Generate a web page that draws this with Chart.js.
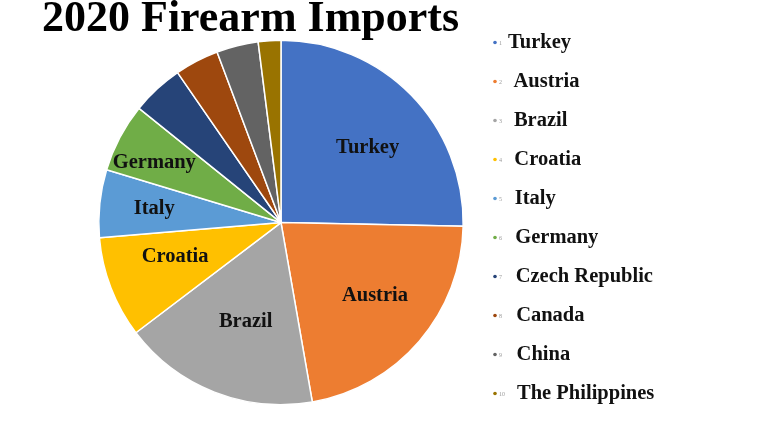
<!DOCTYPE html>
<html>
<head>
<meta charset="utf-8">
<script src="https://cdn.jsdelivr.net/npm/chart.js@4.4.1/dist/chart.umd.min.js"></script>
<style>
  html, body { margin: 0; padding: 0; background: #ffffff; }
  #wrap { width: 770px; height: 430px; }
</style>
</head>
<body>
<div id="wrap"><canvas id="c" width="770" height="430"></canvas></div>
<script>
// ---- data ----
const titleText = '2020 Firearm Imports';
const categories = ['Turkey', 'Austria', 'Brazil', 'Croatia', 'Italy', 'Germany',
                    'Czech Republic', 'Canada', 'China', 'The Philippines'];
const shares = [25.3, 21.9, 17.4, 9.0, 6.0, 6.1, 4.6, 3.9, 3.7, 2.0];
const labelledSlices = ['Turkey', 'Austria', 'Brazil', 'Croatia', 'Italy', 'Germany'];

// ---- style ----
const sliceColors = ['#4472C4', '#ED7D31', '#A5A5A5', '#FFC000', '#5B9BD5',
                     '#70AD47', '#264478', '#9E480E', '#636363', '#997300'];
const serif = '"Liberation Serif", "Times New Roman", serif';
const labelFont = 'bold 20.5px ' + serif;
// per-slice label placement: radial factor and angle nudge (deg)
const labelPlace = {
  'Turkey':  { r: 0.63, da: 3.4 },
  'Austria': { r: 0.652, da: -2.9 },
  'Brazil':  { r: 0.58, da: -1.9 },
  'Croatia': { r: 0.61, da: 3.3 },
  'Italy':   { r: 0.70, da: 0.3 },
  'Germany': { r: 0.77, da: -2.4 }
};

const sliceLabels = {
  id: 'sliceLabels',
  afterDatasetsDraw(chart) {
    const ctx = chart.ctx;
    const meta = chart.getDatasetMeta(0);
    ctx.save();
    ctx.font = labelFont;
    ctx.fillStyle = '#111111';
    ctx.textAlign = 'center';
    ctx.textBaseline = 'middle';
    meta.data.forEach((arc, i) => {
      const name = chart.data.labels[i];
      if (!labelledSlices.includes(name)) return;
      const p = arc.getProps(['x', 'y', 'startAngle', 'endAngle', 'outerRadius'], true);
      const place = labelPlace[name];
      const mid = (p.startAngle + p.endAngle) / 2 + place.da * Math.PI / 180;
      const r = p.outerRadius * place.r;
      ctx.fillText(name, p.x + Math.cos(mid) * r, p.y + Math.sin(mid) * r);
    });
    ctx.restore();
  }
};

const sideLegend = {
  id: 'sideLegend',
  afterDraw(chart) {
    const ctx = chart.ctx;
    ctx.save();
    chart.data.labels.forEach((name, i) => {
      const y = 42.5 + 39 * i;
      ctx.beginPath();
      ctx.fillStyle = chart.data.datasets[0].backgroundColor[i];
      ctx.arc(495, y, 1.8, 0, Math.PI * 2);
      ctx.fill();
      ctx.fillStyle = '#9a9a9a';
      ctx.font = '6px ' + serif;
      ctx.textAlign = 'left';
      ctx.textBaseline = 'middle';
      ctx.fillText(String(i + 1), 499, y + 0.5);
      ctx.fillStyle = '#111111';
      ctx.font = labelFont;
      ctx.fillText(name, i === 0 ? 508 : 513 + 0.45 * i, y);
    });
    ctx.restore();
  }
};

new Chart(document.getElementById('c'), {
  type: 'pie',
  data: {
    labels: categories,
    datasets: [{
      data: shares,
      backgroundColor: sliceColors,
      borderColor: '#ffffff',
      borderWidth: 1.5
    }]
  },
  options: {
    responsive: false,
    animation: false,
    layout: { padding: { left: 42, right: 250, top: 0, bottom: 24.5 } },
    plugins: {
      legend: { display: false },
      tooltip: { enabled: false },
      title: {
        display: true,
        text: titleText,
        align: 'start',
        color: '#000000',
        font: { family: serif, size: 44, weight: 'bold', lineHeight: 0.9 },
        padding: { top: 0, bottom: 0 }
      }
    }
  },
  plugins: [sliceLabels, sideLegend]
});
</script>
</body>
</html>
